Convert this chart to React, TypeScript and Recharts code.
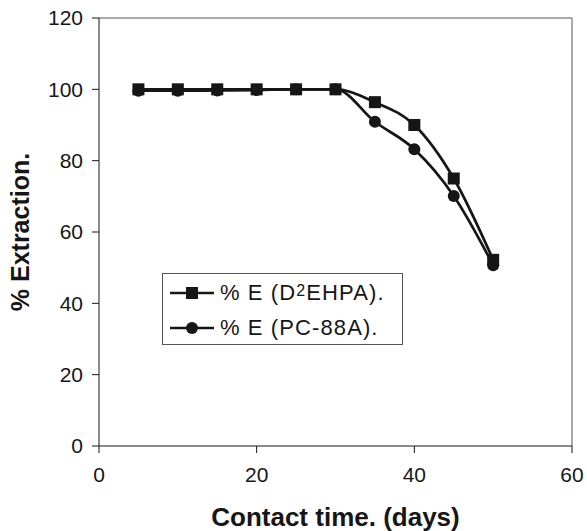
import React from 'react';
import { LineChart, Line, XAxis, YAxis, ReferenceLine } from 'recharts';

const days = [5, 10, 15, 20, 25, 30, 35, 40, 45, 50];
const d2ehpa = [100, 100, 100, 100, 100, 100, 96.4, 90, 75, 52.2];
const pc88a = [99.6, 99.6, 99.7, 99.8, 100, 100, 90.9, 83.2, 70.1, 50.7];
const xTicks = [0, 20, 40, 60];
const yTicks = [0, 20, 40, 60, 80, 100, 120];

const data = days.map((d, i) => ({ day: d, d2ehpa: d2ehpa[i], pc88a: pc88a[i] }));

const FONT = '"Liberation Sans", Arial, sans-serif';
const INK = '#161616';

const Square = (props: any) => {
  const { cx, cy } = props;
  if (cx == null || cy == null) return null;
  return <rect x={cx - 6} y={cy - 6} width={12} height={12} fill={INK} />;
};

const Dot = (props: any) => {
  const { cx, cy } = props;
  if (cx == null || cy == null) return null;
  return <circle cx={cx} cy={cy} r={6} fill={INK} />;
};

function LegendBox() {
  const row = (marker: React.ReactNode, label: React.ReactNode) => (
    <div style={{ display: 'flex', alignItems: 'center', height: 35 }}>
      <svg width={46} height={14} style={{ marginRight: 5, flex: 'none' }}>
        <line x1={1} y1={7} x2={45} y2={7} stroke={INK} strokeWidth={2.5} />
        {marker}
      </svg>
      <span style={{ fontSize: 22, letterSpacing: 1.1, color: INK, whiteSpace: 'nowrap' }}>{label}</span>
    </div>
  );
  return (
    <div
      style={{
        position: 'absolute',
        left: 162,
        top: 273,
        width: 241,
        height: 72,
        boxSizing: 'border-box',
        border: '1px solid #555',
        background: '#fff',
        padding: '1px 0 0 6px',
        fontFamily: FONT,
      }}
    >
      {row(<rect x={17} y={1} width={12} height={12} fill={INK} />, <>% E (D<span style={{ fontSize: 16, verticalAlign: 4 }}>2</span>EHPA).</>)}
      {row(<circle cx={23} cy={7} r={6} fill={INK} />, '% E (PC-88A).')}
    </div>
  );
}

export default function App() {
  return (
    <div style={{ position: 'absolute', left: 0, top: 0, width: 587, height: 531, background: '#fff' }}>
      <LineChart width={587} height={531} data={data} margin={{ top: 18, right: 15, left: 0, bottom: 0 }}>
        <XAxis
          dataKey="day"
          type="number"
          domain={[0, 60]}
          ticks={xTicks}
          height={85}
          tickSize={7}
          tickMargin={14}
          stroke={INK}
          tick={{ fill: INK, fontSize: 21, fontFamily: FONT }}
          label={{ value: 'Contact time. (days)', position: 'insideBottom', offset: 5, fill: INK, fontSize: 26, fontWeight: 'bold', fontFamily: FONT }}
        />
        <YAxis
          type="number"
          domain={[0, 120]}
          ticks={yTicks}
          width={99}
          tickSize={7}
          tickMargin={9}
          stroke={INK}
          tick={{ fill: INK, fontSize: 21, fontFamily: FONT }}
          label={{ value: '% Extraction.', angle: -90, position: 'insideLeft', offset: 20, fill: INK, fontSize: 25, fontWeight: 'bold', fontFamily: FONT, style: { textAnchor: 'middle' } }}
        />
        <ReferenceLine y={120} stroke="#555" strokeWidth={1} />
        <ReferenceLine x={60} stroke="#555" strokeWidth={1} />
        <Line
          type="monotone"
          dataKey="d2ehpa"
          stroke={INK}
          strokeWidth={2.7}
          dot={<Square />}
          isAnimationActive={false}
        />
        <Line
          type="monotone"
          dataKey="pc88a"
          stroke={INK}
          strokeWidth={2.7}
          dot={<Dot />}
          isAnimationActive={false}
        />
      </LineChart>
      <LegendBox />
    </div>
  );
}
